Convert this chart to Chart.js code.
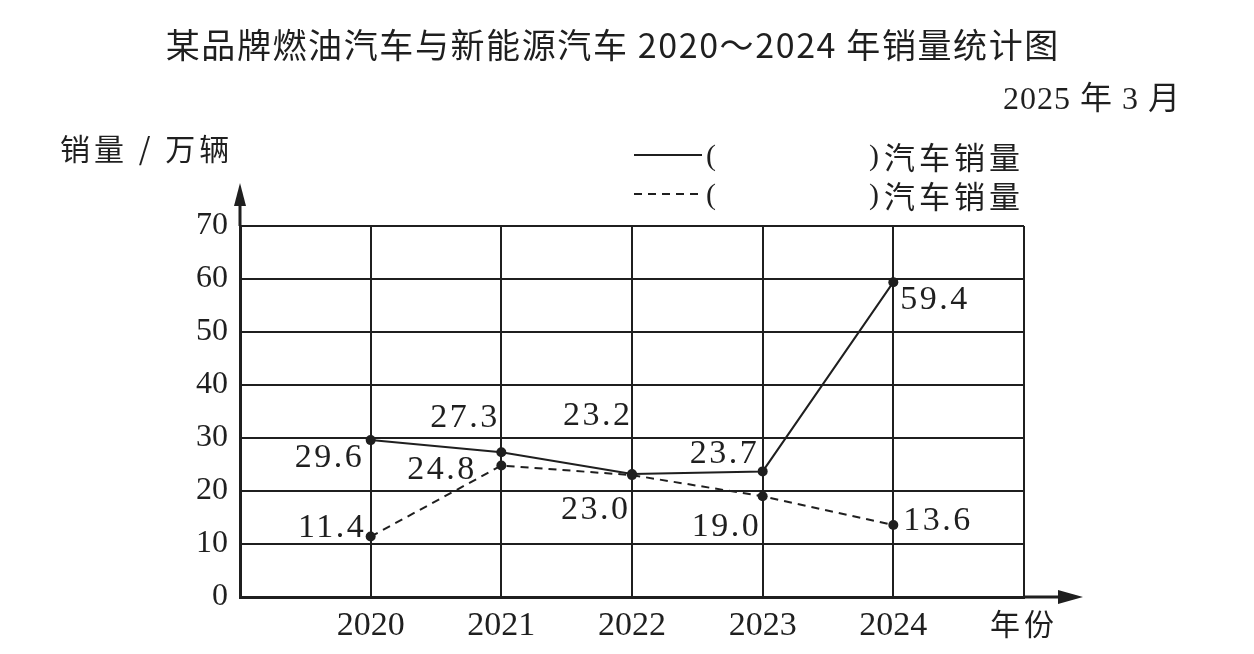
<!DOCTYPE html>
<html>
<head>
<meta charset="utf-8">
<script src="https://cdn.jsdelivr.net/npm/chart.js@4.4.1/dist/chart.umd.min.js"></script>
<style>
    html, body { margin: 0; background: #fff; }
    canvas { display: block; }
</style>
</head>
<body>
<canvas id="grafico" width="1254" height="654"></canvas>
<script>
// datos
const years = [2020, 2021, 2022, 2023, 2024];
const salesSolid = [29.6, 27.3, 23.2, 23.7, 59.4];
const salesDashed = [11.4, 24.8, 23.0, 19.0, 13.6];
const yTicks = [0, 10, 20, 30, 40, 50, 60, 70];

const titleText = "某品牌燃油汽车与新能源汽车 2020～2024 年销量统计图";
const dateText = "2025 年 3 月";
const yAxisText = "销量 / 万辆";
const xAxisText = "年份";
const legendText = "汽车销量";

// donde va cada etiqueta respecto a su punto: [dx, dy, align]
const labelSolidPos = [[-9, 18, "right"], [-4, -34, "right"], [-2, -58, "right"], [-6, -17, "right"], [7, 18, "left"]];
const labelDashedPos = [[-7, -9, "right"], [-27, 5, "right"], [-4, 35, "right"], [-4, 31, "right"], [10, -4, "left"]];

const ink = "#1f1f1f";
const serif = '"Liberation Serif", "Noto Sans CJK SC", serif';
const cjk = '"Noto Sans CJK SC", sans-serif';

function drawText(ctx, text, x, y, font, align, spacing) {
    spacing = spacing || 0;
    ctx.save();
    ctx.font = font;
    ctx.letterSpacing = spacing + "px";
    ctx.textBaseline = "middle";
    ctx.textAlign = "left";
    ctx.fillStyle = ink;
    const w = ctx.measureText(text).width - spacing;
    let left = x;
    if (align === "right") left = x - w;
    if (align === "center") left = x - w / 2;
    ctx.fillText(text, left, y);
    ctx.restore();
}

const decor = {
    id: "decor",
    beforeDraw(chart) {
        const ctx = chart.ctx;
        ctx.save();
        ctx.fillStyle = "#fff";
        ctx.fillRect(0, 0, chart.width, chart.height);
        ctx.restore();
    },
    afterDraw(chart) {
        const ctx = chart.ctx;
        const area = chart.chartArea;

        // flechas de los ejes
        ctx.save();
        ctx.strokeStyle = ink;
        ctx.fillStyle = ink;
        ctx.lineWidth = 3;
        ctx.beginPath();
        ctx.moveTo(area.left, area.top);
        ctx.lineTo(area.left, 200);
        ctx.moveTo(area.right, area.bottom);
        ctx.lineTo(1062, area.bottom);
        ctx.stroke();
        ctx.beginPath();
        ctx.moveTo(area.left, 183);
        ctx.lineTo(area.left - 6, 206);
        ctx.lineTo(area.left + 6, 206);
        ctx.closePath();
        ctx.fill();
        ctx.beginPath();
        ctx.moveTo(1083, area.bottom);
        ctx.lineTo(1058, area.bottom - 7);
        ctx.lineTo(1058, area.bottom + 7);
        ctx.closePath();
        ctx.fill();
        ctx.restore();

        // textos
        drawText(ctx, titleText, 612, 45, "34px " + cjk, "center", 1.6);
        drawText(ctx, dateText, 1180, 101, "32px " + serif, "right", 1);
        drawText(ctx, yAxisText, 60, 149, "30px " + cjk, "left", 4);
        drawText(ctx, xAxisText, 990, 624, "30px " + cjk, "left", 4);

        // leyenda
        const rows = [155, 194];
        chart.data.datasets.forEach((ds, i) => {
            const y = rows[i];
            ctx.save();
            ctx.strokeStyle = ink;
            ctx.lineWidth = 2;
            ctx.setLineDash(ds.borderDash || []);
            ctx.beginPath();
            ctx.moveTo(634, y);
            ctx.lineTo(702, y);
            ctx.stroke();
            ctx.restore();
            drawText(ctx, "(", 711, y + 2, "30px " + serif, "center", 0);
            drawText(ctx, ")", 874, y + 2, "30px " + serif, "center", 0);
            drawText(ctx, ds.label, 884, y + 2, "31px " + cjk, "left", 4);
        });

        // etiquetas de valores
        const posList = [labelSolidPos, labelDashedPos];
        chart.data.datasets.forEach((ds, i) => {
            const meta = chart.getDatasetMeta(i);
            meta.data.forEach((pt, j) => {
                const p = posList[i][j];
                drawText(ctx, ds.data[j].y.toFixed(1), pt.x + p[0], pt.y + p[1], "34px " + serif, p[2], 2.5);
            });
        });
    }
};

const ctx = document.getElementById("grafico").getContext("2d");

new Chart(ctx, {
    type: "line",
    data: {
        datasets: [
            {
                label: legendText,
                data: years.map((y, i) => ({ x: y, y: salesSolid[i] })),
                borderColor: ink,
                borderWidth: 2,
                pointRadius: 5,
                pointBackgroundColor: ink,
                pointBorderColor: ink,
                pointBorderWidth: 0,
                tension: 0
            },
            {
                label: legendText,
                data: years.map((y, i) => ({ x: y, y: salesDashed[i] })),
                borderColor: ink,
                borderWidth: 2,
                borderDash: [8, 6],
                pointRadius: 5,
                pointBackgroundColor: ink,
                pointBorderColor: ink,
                pointBorderWidth: 0,
                tension: 0
            }
        ]
    },
    options: {
        responsive: false,
        animation: false,
        devicePixelRatio: 1,
        layout: { padding: { top: 226, right: 230, left: 0, bottom: 0 } },
        plugins: {
            legend: { display: false },
            tooltip: { enabled: false },
            title: { display: false }
        },
        scales: {
            x: {
                type: "linear",
                min: years[0] - 1,
                max: years[years.length - 1] + 1,
                afterFit: s => { s.height = 57; },
                ticks: {
                    stepSize: 1,
                    autoSkip: false,
                    maxRotation: 0,
                    padding: 9,
                    color: ink,
                    font: { family: serif, size: 34 },
                    callback: v => years.includes(v) ? String(v) : ""
                },
                grid: { color: ink, lineWidth: 2, drawTicks: false },
                border: { color: ink, width: 3 }
            },
            y: {
                min: yTicks[0],
                max: yTicks[yTicks.length - 1],
                afterFit: s => { s.width = 240; },
                afterBuildTicks: s => { s.ticks = yTicks.map(v => ({ value: v })); },
                ticks: {
                    padding: 12,
                    color: ink,
                    font: { family: serif, size: 32 }
                },
                grid: { color: ink, lineWidth: 2, drawTicks: false },
                border: { color: ink, width: 3 }
            }
        }
    },
    plugins: [decor]
});
</script>
</body>
</html>
